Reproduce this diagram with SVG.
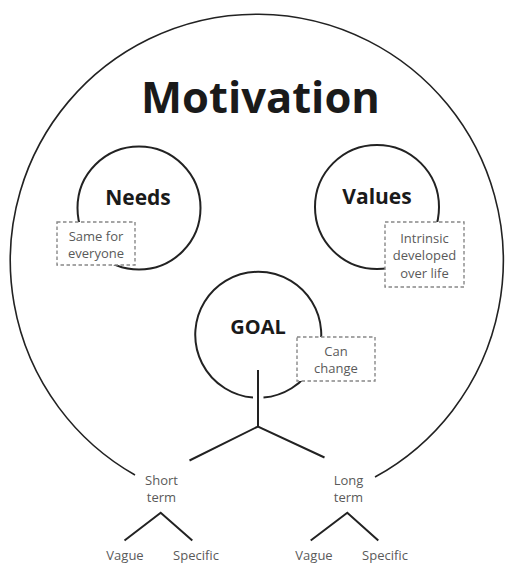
<svg xmlns="http://www.w3.org/2000/svg" width="520" height="578" viewBox="0 0 520 578">
<style>
.ln{fill:none;stroke:#222;stroke-width:2;stroke-linecap:butt}
.outer{fill:none;stroke:#222;stroke-width:1.6}
.box{fill:#fff;stroke:#888;stroke-width:1.4;stroke-dasharray:3.5 2.5}
.lbl{font-family:"Open Sans","Liberation Sans",sans-serif;font-weight:bold;fill:#1a1a1a;text-anchor:middle}
.sm{font-family:"Open Sans","Liberation Sans",sans-serif;font-size:13px;fill:#5a5a5a;text-anchor:middle}
</style>
<rect width="520" height="578" fill="#fff"/>
<g id="motivation">
<path class="outer" d="M135 475 A246.5 246.5 0 1 1 375 477"/>
<text class="lbl" x="260.5" y="112.5" font-size="43.5">Motivation</text>
</g>
<g id="needs">
<circle class="ln" cx="139" cy="208" r="61.5"/>
<rect class="box" x="57" y="222" width="78" height="43"/>
<text class="lbl" x="138" y="205" font-size="21">Needs</text>
<text class="sm" x="96" y="241">Same for</text>
<text class="sm" x="96" y="258">everyone</text>
</g>
<g id="values">
<circle class="ln" cx="377" cy="207" r="62"/>
<rect class="box" x="385" y="222" width="79" height="65"/>
<text class="lbl" x="377" y="204" font-size="21">Values</text>
<text class="sm" x="424.5" y="243">Intrinsic</text>
<text class="sm" x="424.5" y="260">developed</text>
<text class="sm" x="424.5" y="277.5">over life</text>
</g>
<g id="goal">
<path class="ln" d="M253 397.6 A63 63 0 1 1 263.5 397.6"/>
<rect class="box" x="297" y="337" width="78" height="44"/>
<text class="lbl" x="258" y="333.5" font-size="20">GOAL</text>
<text class="sm" x="336" y="355.5">Can</text>
<text class="sm" x="336" y="372.5">change</text>
</g>
<g id="short-term">
<text class="sm" x="161.5" y="484.5">Short</text>
<text class="sm" x="161.5" y="501.5">term</text>
</g>
<g id="long-term">
<text class="sm" x="348.5" y="484.5">Long</text>
<text class="sm" x="348.5" y="501.5">term</text>
</g>
<g id="short-vague"><text class="sm" x="125" y="559.5">Vague</text></g>
<g id="short-specific"><text class="sm" x="196" y="559.5">Specific</text></g>
<g id="long-vague"><text class="sm" x="314" y="559.5">Vague</text></g>
<g id="long-specific"><text class="sm" x="385" y="559.5">Specific</text></g>
<g id="connectors">
<path class="ln" d="M258 370 V426.5"/>
<path class="ln" d="M189.5 460.5 L258 426.5 L324.5 457.5"/>
<path class="ln" d="M124.5 540.5 L160.7 512.7 L192.3 540.5"/>
<path class="ln" d="M310.7 540.5 L347.3 512.7 L378.3 540.5"/>
</g>
</svg>
